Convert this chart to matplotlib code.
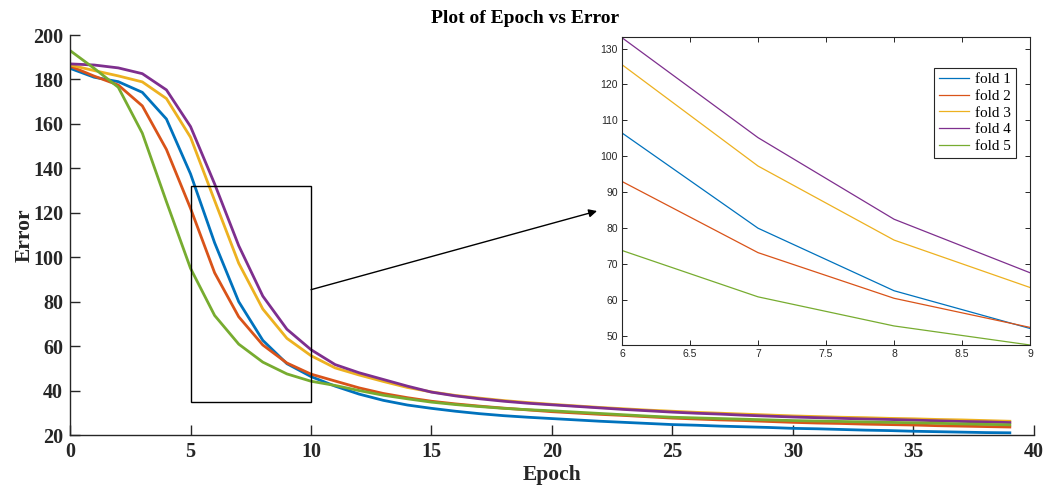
import numpy as np
import matplotlib
matplotlib.use("Agg")
import matplotlib.pyplot as plt
from matplotlib.patches import Rectangle

# error per epoch for each fold
epochs = list(range(40))

fold1 = [185, 181, 179, 174.2, 162.2, 137.5, 106.5, 80, 62.6, 52.1,
         46.3, 42.0, 38.4, 35.6, 33.5, 32.0, 30.7, 29.6, 28.7, 28.0,
         27.4, 26.8, 26.2, 25.7, 25.2, 24.7, 24.4, 24.0, 23.7, 23.4,
         23.0, 22.8, 22.5, 22.2, 22.0, 21.7, 21.5, 21.3, 21.1, 21.0]
fold2 = [186, 181.5, 177.5, 168.1, 148.5, 122, 93, 73.2, 60.5, 52.4,
         47.4, 44.3, 41.2, 38.7, 36.8, 35.2, 34.0, 33.0, 32.1, 31.3,
         30.5, 29.9, 29.3, 28.8, 28.2, 27.6, 27.2, 26.8, 26.5, 26.1,
         25.7, 25.4, 25.2, 24.9, 24.7, 24.5, 24.2, 24.0, 23.8, 23.6]
fold3 = [186.5, 184, 181.6, 178.9, 171.4, 154, 125.5, 97.3, 76.7, 63.5,
         55.7, 50.2, 47.0, 44.1, 41.4, 39.4, 37.8, 36.6, 35.5, 34.6,
         33.8, 33.1, 32.4, 31.8, 31.2, 30.7, 30.2, 29.8, 29.4, 29.0,
         28.6, 28.3, 28.0, 27.8, 27.5, 27.3, 27.0, 26.8, 26.5, 26.2]
fold4 = [187, 186.5, 185.2, 182.6, 175.3, 158.8, 133, 105.2, 82.5, 67.6,
         58.4, 51.7, 48.0, 45.0, 42.0, 39.3, 37.6, 36.3, 35.2, 34.3,
         33.6, 32.9, 32.2, 31.5, 30.9, 30.3, 29.8, 29.4, 28.9, 28.5,
         28.1, 27.8, 27.5, 27.2, 27.0, 26.7, 26.4, 26.1, 25.9, 25.6]
fold5 = [193, 185, 176.5, 155.8, 125, 95, 73.8, 60.9, 52.8, 47.5,
         44.2, 42.3, 40.0, 37.9, 36.3, 34.8, 33.7, 32.8, 32.0, 31.4,
         30.9, 30.3, 29.7, 29.1, 28.5, 28.0, 27.7, 27.4, 27.1, 26.8,
         26.5, 26.3, 26.1, 25.9, 25.7, 25.5, 25.3, 25.0, 24.8, 24.6]

folds = [fold1, fold2, fold3, fold4, fold5]
labels = ["fold 1", "fold 2", "fold 3", "fold 4", "fold 5"]
colors = ["#0072BD", "#D95319", "#EDB120", "#7E2F8E", "#77AC30"]

serif = "Liberation Serif"
axcol = "#262626"

fig = plt.figure(figsize=(10.5, 4.93), dpi=100)

# main axes
ax = fig.add_axes([0.0667, 0.1176, 0.918, 0.8114])
for f, c in zip(folds, colors):
    ax.plot(epochs, f, color=c, lw=2.0)
ax.set_xlim(0, 40)
ax.set_ylim(20, 200)
ax.set_xticks(range(0, 41, 5))
ax.set_yticks(range(20, 201, 20))
ax.spines["top"].set_visible(False)
ax.spines["right"].set_visible(False)
for s in ["left", "bottom"]:
    ax.spines[s].set_color(axcol)
    ax.spines[s].set_linewidth(1.0)
ax.tick_params(direction="in", length=7, width=1.0, color=axcol, labelcolor=axcol, pad=5)
for t in ax.get_xticklabels() + ax.get_yticklabels():
    t.set_fontfamily(serif)
    t.set_fontweight("bold")
    t.set_fontsize(14.5)
ax.set_xlabel("Epoch", fontfamily=serif, fontweight="bold", fontsize=15.5, color=axcol, labelpad=2)
ax.set_ylabel("Error", fontfamily=serif, fontweight="bold", fontsize=15.5, color=axcol, labelpad=-1)
fig.text(0.5, 0.963, "Plot of Epoch vs Error", fontfamily=serif, fontweight="bold",
         fontsize=14, ha="center", va="center", color="black")

# zoom rectangle
ax.add_patch(Rectangle((5, 35), 5, 97, fill=False, edgecolor="black", lw=1.0, zorder=5))

# arrow from rectangle to inset
ax.annotate("", xy=(0.5686, 0.572), xycoords="figure fraction",
            xytext=(10, 85.4), textcoords="data",
            arrowprops=dict(arrowstyle="-|>", color="black", lw=1.0, mutation_scale=12,
                            shrinkA=0, shrinkB=0))

# inset axes
ins = fig.add_axes([0.5924, 0.3002, 0.3886, 0.6247])
for f, c, lab in zip(folds, colors, labels):
    ins.plot(epochs, f, color=c, lw=0.9, label=lab)
ins.set_xlim(6, 9)
ins.set_ylim(47.5, 133.2)
ins.set_xticks([6, 6.5, 7, 7.5, 8, 8.5, 9])
ins.set_xticklabels(["6", "6.5", "7", "7.5", "8", "8.5", "9"])
ins.set_yticks(range(50, 131, 10))
for s in ins.spines.values():
    s.set_color(axcol)
    s.set_linewidth(0.8)
ins.tick_params(direction="in", length=3.5, width=0.7, color=axcol, labelcolor=axcol,
                labelsize=7.5, top=True, right=True, pad=3)
for t in ins.get_xticklabels() + ins.get_yticklabels():
    t.set_fontfamily("Liberation Sans")
leg = ins.legend(loc="upper right", bbox_to_anchor=(0.965, 0.9), prop={"family": serif, "size": 11},
                 fancybox=False, framealpha=1, edgecolor=axcol, handlelength=2.0,
                 borderaxespad=0, labelspacing=0.2, handletextpad=0.4, borderpad=0.3)
leg.get_frame().set_linewidth(0.8)

fig.savefig("out.png", dpi=100)
